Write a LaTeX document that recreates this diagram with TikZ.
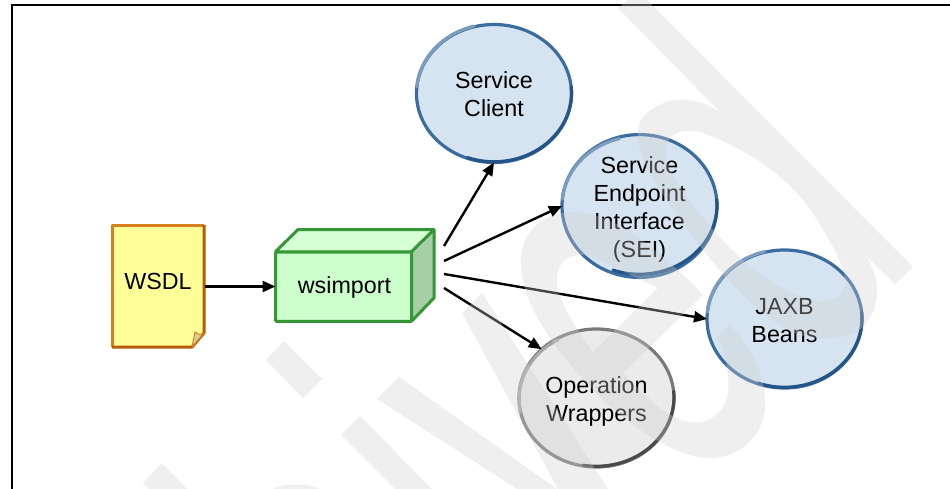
\documentclass[tikz,border=0pt]{standalone}
\usepackage{fontspec}
\setmainfont{Liberation Sans}
\usetikzlibrary{shapes.geometric,arrows.meta}
\definecolor{blueFill}{HTML}{D6E4F2}
\definecolor{blueLine}{HTML}{3A6C9F}
\definecolor{blueDark}{HTML}{245488}
\definecolor{blueLight}{HTML}{7C9CBE}
\definecolor{greyFill}{HTML}{EBEBEB}
\definecolor{greyLine}{HTML}{7A7A7A}
\definecolor{greyDark}{HTML}{4A4A4A}
\definecolor{greyLight}{HTML}{A8A8A8}
\definecolor{docFill}{HTML}{FFFF99}
\definecolor{docLine}{HTML}{D87F20}
\definecolor{docDark}{HTML}{B65C00}
\definecolor{flapFill}{HTML}{D9CF9B}
\definecolor{boxFront}{HTML}{CCFFCC}
\definecolor{boxTop}{HTML}{D6FFD6}
\definecolor{boxSide}{HTML}{A6CFA6}
\definecolor{boxLine}{HTML}{359635}
\definecolor{wmark}{HTML}{CFCFCF}
\newcommand{\wl}[1]{\raisebox{-1pt}[17pt][0pt]{#1}}
\tikzset{
  every node/.style={font=\fontsize{23.3}{28}\selectfont},
  oval/.style={ellipse,inner sep=0pt,outer sep=0pt,minimum width=155pt,minimum height=138pt,align=center,line width=3.2pt},
  blueoval/.style={oval,fill=blueFill,draw=blueLine},
  greyoval/.style={oval,fill=greyFill,draw=greyLine},
  arr/.style={draw=black,line width=2.4pt,-{Triangle[length=13pt,width=11pt]}},
  boxedge/.style={draw=boxLine,line width=3pt,line join=round},
  docedge/.style={draw=docLine,line width=3pt,line join=round},
  frameline/.style={draw=black,line width=1.2pt},
  wm/.style={fill=wmark,opacity=.33,draw=none,even odd rule}
}
\begin{document}
\begin{tikzpicture}[x=1pt,y=-1pt]
\useasboundingbox (0,0) rectangle (950,489);
\fill[white] (0,0) rectangle (950,489);
\coordinate (fa) at (12,489);
\coordinate (fb) at (12,5);
\coordinate (fc) at (950,5);
\draw[frameline] (fa) -- (fb) -- (fc);

% WSDL document
\coordinate (d1) at (112,225);
\coordinate (d2) at (204,225);
\coordinate (d3) at (204,333);
\coordinate (d4) at (192,347);
\coordinate (d5) at (112,347);
\fill[docFill] (d1) -- (d2) -- (d3) -- (d4) -- (d5) -- cycle;
\draw[docedge] (d5) -- (d1) -- (d2);
\draw[docedge,draw=docDark] (d2) -- (d3) -- (d4) -- (d5);
\fill[flapFill,draw=docLine,line width=1pt,line join=round] (d4) -- (195,332) -- (200,335) -- (d3) -- cycle;
\node[minimum width=93pt,minimum height=123pt,inner sep=0pt,outer sep=0pt,text height=17pt,text depth=5pt] (wsdl) at (158,286.5) {\raisebox{3pt}{WSDL}};

% wsimport box
\coordinate (b1) at (298,229.5);
\coordinate (b2) at (434,229.5);
\coordinate (b3) at (434,298);
\node[rectangle,fill=boxFront,draw=boxLine,line width=3pt,rounded corners=1pt,minimum width=136pt,minimum height=69.5pt,inner sep=0pt,outer sep=0pt,text height=17pt,text depth=5pt] (wsi) at (343.5,286.5) {\hspace{2pt}\raisebox{-.5pt}{wsimport}};
\fill[boxTop] (wsi.north west) -- (b1) -- (b2) -- (wsi.north east) -- cycle;
\fill[boxSide] (wsi.north east) -- (b2) -- (b3) -- (wsi.south east) -- cycle;
\draw[boxedge] (wsi.north west) -- (b1) -- (b2) -- (b3) -- (wsi.south east) -- (wsi.north east) -- (wsi.north west);
\draw[boxedge] (wsi.north east) -- (b2);

% ovals
\node[blueoval] (sc) at (494,93.5) {\wl{Service}\\\wl{Client}};
\node[blueoval] (sei) at (639.5,206) {\wl{Service}\\\wl{Endpoint}\\\wl{Interface}\\\wl{(SEI)}};
\node[blueoval] (jaxb) at (784.5,319) {\wl{JAXB}\\\wl{Beans}};
\node[greyoval] (ow) at (596.5,398) {\wl{Operation}\\\wl{Wrappers}};

% stroke tones
\foreach \n in {sc,sei,jaxb}{
  \draw[blueDark,line width=3.2pt,line cap=round] (\n.center) ++(-5:77.5) arc[start angle=-5,end angle=110,x radius=77.5,y radius=69];
  \draw[blueLight,line width=3.2pt,line cap=round] (\n.center) ++(185:77.5) arc[start angle=185,end angle=255,x radius=77.5,y radius=69];
}
\draw[greyDark,line width=3.2pt,line cap=round] (ow.center) ++(-5:77.5) arc[start angle=-5,end angle=100,x radius=77.5,y radius=69];
\draw[greyLight,line width=3.2pt,line cap=round] (ow.center) ++(170:77.5) arc[start angle=170,end angle=240,x radius=77.5,y radius=69];

% connectors
\coordinate (s1) at (444,246);
\coordinate (s2) at (444,261);
\coordinate (s3) at (444,274);
\coordinate (s4) at (444,288);
\draw[arr] (wsdl.east) -- (wsi.west);
\draw[arr] (s1) -- (sc.south);
\draw[arr] (s2) -- (sei.west);
\draw[arr] (s3) -- (jaxb.west);
\draw[arr] (s4) -- (ow.north west);

% watermark
\fill[wm]
  (628,0) -- (647,0) -- (913,267) -- (895,284) -- (867,257)
  .. controls (880,280) and (882,305) .. (863,327)
  .. controls (850,340) and (810,345) .. (783,327)
  .. controls (740,300) and (700,250) .. (660,190)
  .. controls (640,160) and (630,130) .. (645,115)
  .. controls (665,95) and (695,95) .. (720,112)
  -- (618,8) -- cycle
  (700,132)
  .. controls (750,150) and (795,180) .. (820,225)
  .. controls (845,265) and (852,285) .. (838,297)
  .. controls (820,310) and (780,290) .. (750,267)
  .. controls (715,235) and (690,205) .. (670,170)
  .. controls (660,150) and (665,125) .. (700,132) -- cycle
  (703,295)
  .. controls (680,270) and (655,250) .. (633,233)
  .. controls (600,213) and (570,205) .. (543,220)
  .. controls (525,232) and (518,250) .. (522,275)
  .. controls (527,310) and (555,350) .. (593,390)
  .. controls (630,428) and (680,460) .. (713,458)
  .. controls (750,455) and (768,425) .. (765,397)
  .. controls (762,370) and (750,345) .. (730,325)
  -- (717,337)
  .. controls (725,350) and (730,375) .. (728,393)
  .. controls (725,415) and (705,425) .. (690,422)
  .. controls (665,418) and (645,395) .. (623,373)
  -- cycle
  (658,288) -- (593,352)
  .. controls (570,320) and (552,290) .. (558,272)
  .. controls (562,255) and (580,250) .. (600,260)
  -- cycle
  (462,313) -- (482,293) -- (608,489) -- (558,489) -- cycle
  (399,377) -- (377,399) -- (517,489) -- (557,489) -- cycle
  (284,341) -- (266,360) -- (303,398) -- (322,379) -- cycle
  (360,416) -- (341,435) -- (395,489) -- (432,489) -- cycle
  (162,463) -- (143,483) -- (149,489) -- (187,489) -- cycle
  (273,489) .. controls (285,483) and (305,483) .. (320,489) -- cycle;
\end{tikzpicture}
\end{document}
